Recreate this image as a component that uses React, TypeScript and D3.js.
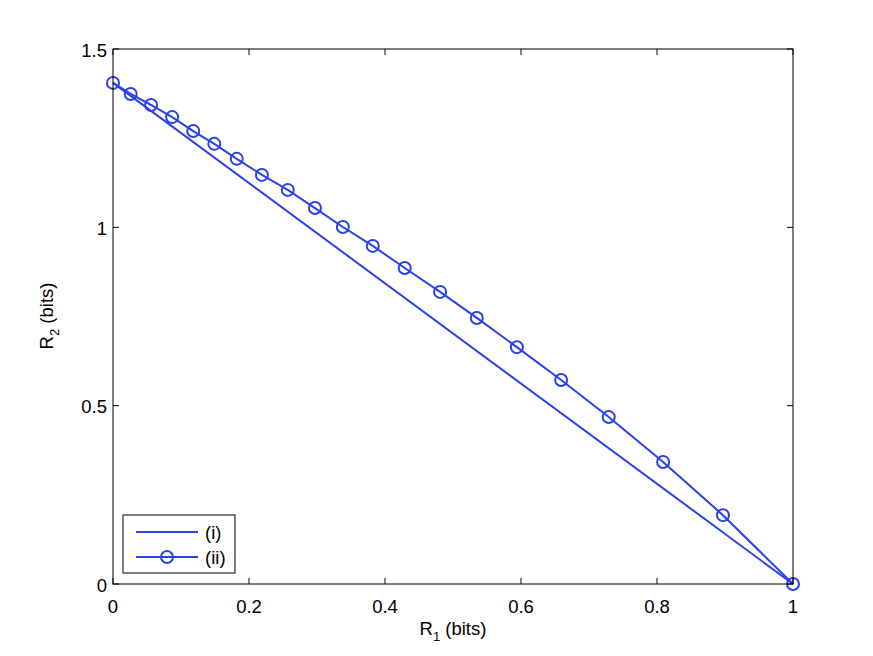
import React from "react";
import * as d3 from "d3";

const seriesIX = [0, 1];
const seriesIY = [1.405, 0];

const seriesIIX = [0, 0.026, 0.056, 0.087, 0.118, 0.149, 0.182, 0.219, 0.257, 0.297, 0.338, 0.382, 0.429, 0.481, 0.535, 0.594, 0.659, 0.729, 0.809, 0.897, 1];
const seriesIIY = [1.405, 1.374, 1.343, 1.309, 1.270, 1.234, 1.192, 1.147, 1.105, 1.054, 1.001, 0.948, 0.886, 0.819, 0.746, 0.664, 0.572, 0.468, 0.342, 0.193, 0];

const xTicks = [0, 0.2, 0.4, 0.6, 0.8, 1];
const yTicks = [0, 0.5, 1, 1.5];
const legendLabels = ["(i)", "(ii)"];

const W = 873, H = 656;
const M = { left: 113, right: 793, top: 49, bottom: 584 };
const COLOR = "#2b42e8";
const FONT = "'Liberation Sans', Arial, Helvetica, sans-serif";
const FS = 18.5;

export default function App() {
  const x = d3.scaleLinear().domain([0, 1]).range([M.left, M.right]);
  const y = d3.scaleLinear().domain([0, 1.5]).range([M.bottom, M.top]);
  const line = d3.line<[number, number]>().x(d => x(d[0])).y(d => y(d[1]));
  const d1 = seriesIX.map((v, i) => [v, seriesIY[i]] as [number, number]);
  const d2 = seriesIIX.map((v, i) => [v, seriesIIY[i]] as [number, number]);
  const tl = 6;
  const fmt = (v: number) => String(v);

  return (
    <svg width={W} height={H} style={{ position: "absolute", left: 0, top: 0, background: "#fff" }} fontFamily={FONT}>
      <rect x={0} y={0} width={W} height={H} fill="#fff" />
      <path d={line(d1) || ""} fill="none" stroke={COLOR} strokeWidth={2} />
      <path d={line(d2) || ""} fill="none" stroke={COLOR} strokeWidth={2} />
      {d2.map((p, i) => (
        <circle key={i} cx={x(p[0])} cy={y(p[1])} r={6} fill="none" stroke={COLOR} strokeWidth={2} />
      ))}
      <rect x={M.left} y={M.top} width={M.right - M.left} height={M.bottom - M.top} fill="none" stroke="#000" strokeWidth={1} />
      {xTicks.map((t, i) => (
        <g key={"x" + i}>
          <line x1={x(t)} x2={x(t)} y1={M.bottom} y2={M.bottom - tl} stroke="#000" />
          <line x1={x(t)} x2={x(t)} y1={M.top} y2={M.top + tl} stroke="#000" />
          <text x={x(t)} y={M.bottom + 29} fontSize={FS} textAnchor="middle">{fmt(t)}</text>
        </g>
      ))}
      {yTicks.map((t, i) => (
        <g key={"y" + i}>
          <line x1={M.left} x2={M.left + tl} y1={y(t)} y2={y(t)} stroke="#000" />
          <line x1={M.right} x2={M.right - tl} y1={y(t)} y2={y(t)} stroke="#000" />
          <text x={M.left - 6} y={y(t) + 7.5} fontSize={FS} textAnchor="end">{fmt(t)}</text>
        </g>
      ))}
      <text x={453} y={635} fontSize={FS} textAnchor="middle">
        R<tspan fontSize={13} dy={6}>1</tspan><tspan dy={-6}> (bits)</tspan>
      </text>
      <text transform={`translate(53,316) rotate(-90)`} fontSize={FS} textAnchor="middle">
        R<tspan fontSize={13} dy={6}>2</tspan><tspan dy={-6}> (bits)</tspan>
      </text>
      <rect x={123} y={515} width={112} height={58} fill="#fff" stroke="#000" strokeWidth={1} />
      {legendLabels.map((l, i) => {
        const ly = 532 + i * 25;
        return (
          <g key={l}>
            <line x1={136} x2={198} y1={ly} y2={ly} stroke={COLOR} strokeWidth={2} />
            {i === 1 && <circle cx={167} cy={ly} r={6} fill="none" stroke={COLOR} strokeWidth={2} />}
            <text x={205} y={ly + 6.5} fontSize={FS}>{l}</text>
          </g>
        );
      })}
    </svg>
  );
}
